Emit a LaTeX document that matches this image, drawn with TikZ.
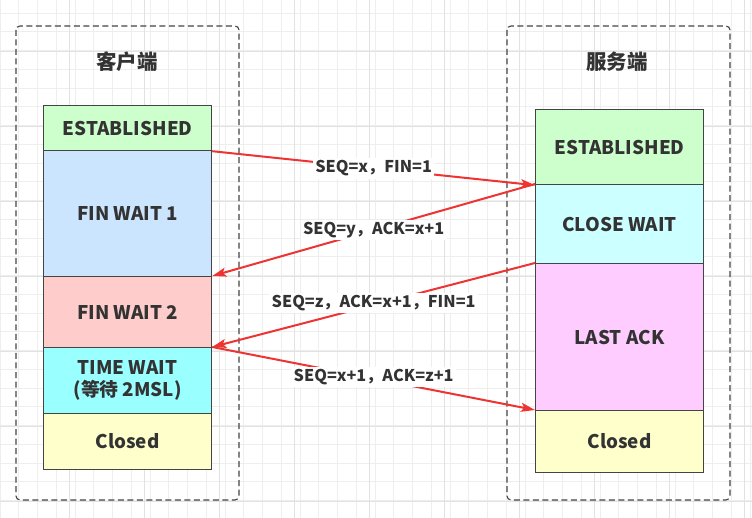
\documentclass[tikz,border=0pt]{standalone}
\usepackage{fontspec}
\setmainfont{Noto Sans CJK SC}
\usetikzlibrary{arrows.meta}
\definecolor{txt}{HTML}{333333}
\definecolor{edge}{HTML}{444444}
\definecolor{gridminor}{HTML}{EEEEEE}
\definecolor{gridmajor}{HTML}{E2E2E2}
\definecolor{arr}{HTML}{EE3333}
\definecolor{cgreen}{HTML}{CCFFCC}
\definecolor{cblue}{HTML}{CCE5FF}
\definecolor{cpink}{HTML}{FFCCCC}
\definecolor{ccyan}{HTML}{99FFFF}
\definecolor{clcyan}{HTML}{CCFFFF}
\definecolor{cviolet}{HTML}{FFCCFF}
\definecolor{cyellow}{HTML}{FFFFCC}
\tikzset{
  statebox/.style={draw=edge, line width=1.2pt, minimum width=168pt, inner sep=0pt,
    font=\bfseries\fontsize{18.8}{22}\selectfont, text=txt, align=center, anchor=north west},
  container/.style={draw=edge, line width=1.1pt, dash pattern=on 6pt off 3.5pt, rounded corners=4pt},
  title/.style={font=\bfseries\fontsize{20.5}{22}\selectfont, text=txt},
  msg/.style={draw=arr, line width=2pt, -{Stealth[length=14pt,width=9pt,inset=3pt]}},
  msglabel/.style={fill=white, inner sep=2.5pt, font=\bfseries\fontsize{16.2}{19}\selectfont, text=txt},
}
\begin{document}
\begin{tikzpicture}[x=1pt,y=-1pt]
\useasboundingbox (0,0) rectangle (752,518);
\fill[white] (0,0) rectangle (752,518);
% grid
\foreach \i in {0,...,40} {
  \draw[gridminor, line width=0.6pt] (\i*18.75,0) -- (\i*18.75,518);
}
\foreach \j in {0,...,27} {
  \draw[gridminor, line width=0.6pt] (0,13+\j*18.75-18.75) -- (752,13+\j*18.75-18.75);
}
\foreach \i in {0,...,10} {
  \draw[gridmajor, line width=0.8pt] (\i*75-6,0) -- (\i*75-6,518);
}
\foreach \j in {0,...,7} {
  \draw[gridmajor, line width=0.8pt] (0,51+\j*75-75) -- (752,51+\j*75-75);
}
% containers
\draw[container] (16,26) rectangle (239,500);
\draw[container] (507,26) rectangle (730,500);
\node[title] (tc) at (127,62) {客户端};
\node[title] (ts) at (617,62) {服务端};
% client states
\node[statebox, fill=cgreen, minimum height=45pt] (c1) at (43,105) {ESTABLISHED};
\node[statebox, fill=cblue, minimum height=126pt] (c2) at (43,150) {FIN WAIT 1};
\node[statebox, fill=cpink, minimum height=71pt] (c3) at (43,276) {FIN WAIT 2};
\node[statebox, fill=ccyan, minimum height=66pt] (c4) at (43,347) {TIME WAIT\\(等待 2MSL)};
\node[statebox, fill=cyellow, minimum height=56pt] (c5) at (43,413) {Closed};
% server states
\node[statebox, fill=cgreen, minimum height=75pt] (s1) at (535,109) {ESTABLISHED};
\node[statebox, fill=clcyan, minimum height=79pt] (s2) at (535,184) {CLOSE WAIT};
\node[statebox, fill=cviolet, minimum height=147pt] (s3) at (535,263) {LAST ACK};
\node[statebox, fill=cyellow, minimum height=62pt] (s4) at (535,410) {Closed};
% messages
\draw[msg] (c1.south east) -- node[msglabel] (m1) {SEQ=x，FIN=1} (s1.south west);
\draw[msg] (s2.north west) -- node[msglabel] (m2) {SEQ=y，ACK=x+1} (c3.north east);
\draw[msg] (s3.north west) -- node[msglabel, yshift=2pt] (m3) {SEQ=z，ACK=x+1，FIN=1} (c4.north east);
\draw[msg] (c4.north east) -- node[msglabel, yshift=1.5pt] (m4) {SEQ=x+1，ACK=z+1} (s4.north west);
\end{tikzpicture}
\end{document}
